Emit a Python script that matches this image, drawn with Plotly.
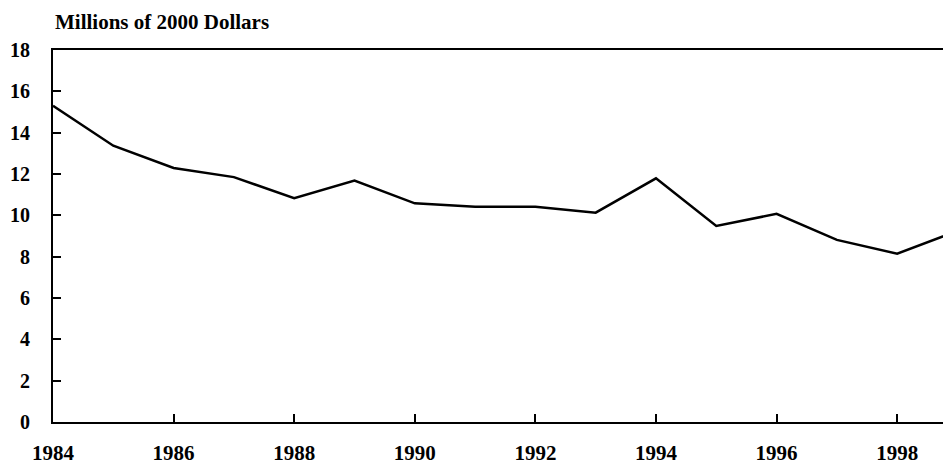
import plotly.graph_objects as go

years = [1984, 1985, 1986, 1987, 1988, 1989, 1990, 1991, 1992, 1993, 1994, 1995, 1996, 1997, 1998, 1999]
values = [15.3, 13.37, 12.29, 11.85, 10.83, 11.68, 10.58, 10.42, 10.42, 10.13, 11.79, 9.49, 10.07, 8.81, 8.14, 9.25]
x_ticks = [1984, 1986, 1988, 1990, 1992, 1994, 1996, 1998]
y_ticks = [0, 2, 4, 6, 8, 10, 12, 14, 16, 18]
title_text = "Millions of 2000 Dollars"

font_family = "Liberation Serif, Times New Roman, serif"

fig = go.Figure()
fig.add_trace(go.Scatter(x=years, y=values, mode="lines",
                         line=dict(color="black", width=2.5), showlegend=False))

fig.update_layout(
    width=943, height=465,
    margin=dict(l=53, r=0, t=50, b=43),
    paper_bgcolor="white", plot_bgcolor="white",
    font=dict(family=font_family, color="black"),
    xaxis=dict(range=[1984, 1998.76], tickvals=x_ticks, ticktext=[str(v) for v in x_ticks],
               showgrid=False, zeroline=False, showline=True, linecolor="black", linewidth=2,
               mirror=True, ticks="inside", ticklen=8, tickwidth=1.5, tickcolor="black",
               tickfont=dict(size=21, family=font_family, weight="bold"),
               ticklabelstandoff=11),
    yaxis=dict(range=[0, 18], tickvals=y_ticks, showgrid=False, zeroline=False,
               showline=True, linecolor="black", linewidth=2, ticks="inside", ticklen=8,
               tickwidth=1.5, tickcolor="black",
               tickfont=dict(size=20, family=font_family, weight="bold"),
               ticklabelstandoff=17),
    annotations=[dict(text="<b>" + title_text + "</b>", xref="paper", yref="paper",
                      x=0, y=1, xanchor="left", yanchor="bottom", yshift=14, showarrow=False,
                      font=dict(size=21, family=font_family, color="black"))],
)

fig.write_html("out.html", config={"displayModeBar": False},
               post_script="document.body.style.margin='0';document.body.style.overflow='hidden';")
